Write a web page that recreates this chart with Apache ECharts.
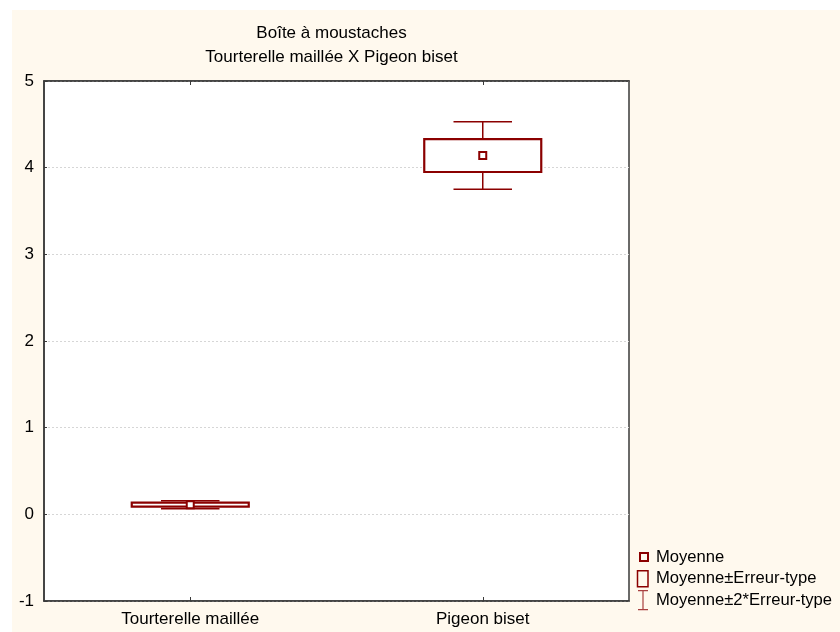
<!DOCTYPE html>
<html>
<head>
<meta charset="utf-8">
<script src="https://cdn.jsdelivr.net/npm/echarts@6/dist/echarts.min.js"></script>
<style>html,body{margin:0;padding:0;background:#fff}#c{width:840px;height:632px}</style>
</head>
<body>
<div id="c"></div>
<script>
// ---- data ----
const categories = ['Tourterelle maillée', 'Pigeon biset'];
const means = [0.11, 4.14];
const boxLow = [0.088, 3.95];      // Moyenne - Erreur-type
const boxHigh = [0.134, 4.33];     // Moyenne + Erreur-type
const whiskerLow = [0.065, 3.75];  // Moyenne - 2*Erreur-type
const whiskerHigh = [0.157, 4.53]; // Moyenne + 2*Erreur-type
const yTicks = { min: -1, max: 5, interval: 1 };
const titleLines = ['Boîte à moustaches', 'Tourterelle maillée X Pigeon biset'];
const legendNames = ['Moyenne', 'Moyenne±Erreur-type', 'Moyenne±2*Erreur-type'];

const RED = '#8B0000';
const FONT = 'Liberation Sans, Arial, sans-serif';
const FS = 17;

const chart = echarts.init(document.getElementById('c'), null, { renderer: 'canvas' });

function bandWidth(api) { return api.size([1, 0])[0]; }

const option = {
  animation: false,
  backgroundColor: '#ffffff',
  graphic: [{
    type: 'rect', z: -10, silent: true,
    shape: { x: 12, y: 10, width: 828, height: 622 },
    style: { fill: '#FFF9EE' }
  }],
  title: {
    text: titleLines.join('\n'),
    left: 326.5, top: 16, textAlign: 'center',
    textStyle: { fontFamily: FONT, fontSize: FS, fontWeight: 'normal', color: '#000', lineHeight: 24.5 }
  },
  legend: {
    orient: 'vertical', left: 636, top: 546, padding: 0, itemGap: 0,
    itemWidth: 14, itemHeight: 20,
    textStyle: { fontFamily: FONT, fontSize: 16.6, color: '#000' },
    data: [
      { name: legendNames[0], icon: 'path://M0,0 M14,20 M3,6 L11,6 L11,14 L3,14 Z',
        itemStyle: { color: 'rgba(0,0,0,0)', borderColor: RED, borderWidth: 2 } },
      { name: legendNames[1], icon: 'path://M0,0 M14,20 M0.5,2 L11,2 L11,18 L0.5,18 Z',
        itemStyle: { color: 'rgba(0,0,0,0)', borderColor: RED, borderWidth: 1.5 } },
      { name: legendNames[2], icon: 'path://M0,0 M14,20 M1,0.5 L11,0.5 M6,0.5 L6,19.5 M1,19.5 L11,19.5',
        itemStyle: { color: 'rgba(0,0,0,0)', borderColor: '#A84040', borderWidth: 1.2 } }
    ]
  },
  grid: {
    left: 44, right: 211, top: 81, bottom: 31,
    show: true, backgroundColor: '#ffffff', borderColor: '#3a3a3a', borderWidth: 1.5
  },
  xAxis: [{
    type: 'category', data: categories, position: 'bottom',
    axisLine: { show: true, onZero: false, lineStyle: { color: '#3a3a3a', width: 1.5 } },
    axisTick: { show: true, inside: true, alignWithLabel: true, length: 4, lineStyle: { color: '#3a3a3a' } },
    axisLabel: { fontFamily: FONT, fontSize: FS, color: '#000', margin: 10 },
    splitLine: { show: false }
  }, {
    type: 'category', data: categories, position: 'top',
    axisLine: { show: true, onZero: false, lineStyle: { color: '#3a3a3a', width: 1.5 } },
    axisTick: { show: true, inside: true, alignWithLabel: true, length: 4, lineStyle: { color: '#3a3a3a' } },
    axisLabel: { show: false },
    splitLine: { show: false }
  }],
  yAxis: {
    type: 'value', min: yTicks.min, max: yTicks.max, interval: yTicks.interval,
    axisLine: { show: true, onZero: false, lineStyle: { color: '#3a3a3a', width: 1.5 } },
    axisTick: { show: true, inside: true, length: 3, lineStyle: { color: '#3a3a3a' } },
    axisLabel: { fontFamily: FONT, fontSize: FS, color: '#000', margin: 10 },
    splitLine: { show: true, lineStyle: { color: '#d6d6d6', type: [2, 2], width: 1 } }
  },
  series: [
    {
      name: legendNames[2], type: 'custom', z: 2,
      data: categories.map((c, i) => [i, whiskerLow[i], whiskerHigh[i], boxLow[i], boxHigh[i]]),
      encode: { x: 0, y: [1, 2, 3, 4] },
      renderItem: function (params, api) {
        const i = api.value(0);
        const bw = bandWidth(api);
        const capHalf = bw * 0.1;
        const pLo = api.coord([i, api.value(1)]);
        const pHi = api.coord([i, api.value(2)]);
        const bLo = api.coord([i, api.value(3)]);
        const bHi = api.coord([i, api.value(4)]);
        const st = { stroke: RED, lineWidth: 1.5, fill: null };
        return {
          type: 'group', children: [
            { type: 'line', shape: { x1: pHi[0] - capHalf, y1: pHi[1], x2: pHi[0] + capHalf, y2: pHi[1] }, style: st },
            { type: 'line', shape: { x1: pHi[0], y1: pHi[1], x2: bHi[0], y2: bHi[1] }, style: st },
            { type: 'line', shape: { x1: pLo[0] - capHalf, y1: pLo[1], x2: pLo[0] + capHalf, y2: pLo[1] }, style: st },
            { type: 'line', shape: { x1: pLo[0], y1: pLo[1], x2: bLo[0], y2: bLo[1] }, style: st }
          ]
        };
      }
    },
    {
      name: legendNames[1], type: 'custom', z: 3,
      data: categories.map((c, i) => [i, boxLow[i], boxHigh[i]]),
      encode: { x: 0, y: [1, 2] },
      renderItem: function (params, api) {
        const i = api.value(0);
        const bw = bandWidth(api);
        const half = bw * 0.2;
        const lo = api.coord([i, api.value(1)]);
        const hi = api.coord([i, api.value(2)]);
        return {
          type: 'rect',
          shape: { x: lo[0] - half, y: hi[1], width: half * 2, height: lo[1] - hi[1] },
          style: { fill: '#ffffff', stroke: RED, lineWidth: 2.2 }
        };
      }
    },
    {
      name: legendNames[0], type: 'scatter', z: 4,
      data: categories.map((c, i) => [i, means[i]]),
      symbol: 'rect', symbolSize: 7,
      itemStyle: { color: '#ffffff', borderColor: RED, borderWidth: 2, opacity: 1 }
    }
  ]
};
chart.setOption(option);
</script>
</body>
</html>
